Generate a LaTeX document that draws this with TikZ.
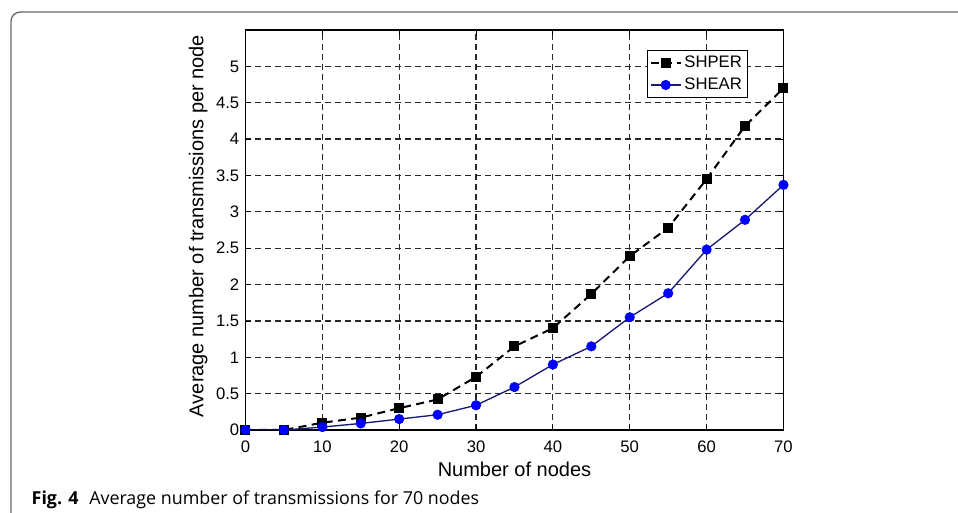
\documentclass[tikz,border=0pt]{standalone}
\usepackage{fontspec}
\setmainfont{Liberation Sans}
\newfontfamily\capfont{Open Sans}
\usepackage{tikz}
\usetikzlibrary{calc}
\usepackage{pgfplots}
\pgfplotsset{compat = newest}
\definecolor{navyline}{RGB}{25,25,110}
\definecolor{gridgray}{RGB}{40,40,40}
\definecolor{framegray}{RGB}{105,105,105}
\pgfplotsset{
  shper/.style={black, line width=1.5pt, dash pattern=on 6pt off 4pt,
    mark=square*, mark size=3pt, mark options={solid}},
  shear/.style={navyline, line width=1pt,
    mark=*, mark size=3.3pt, mark options={fill=blue, draw=blue}},
}

\begin{document}
\begin{tikzpicture}
\useasboundingbox (0,0) rectangle (718.5pt,384.75pt);
\draw[framegray, line width=1pt] (8.25pt,0) -- (8.25pt,368.75pt)
  arc[start angle=180, end angle=90, radius=7pt] -- (718.5pt,375.75pt);
\begin{axis}[name=plot, at={(184.1pt,62.25pt)}, anchor=south west,
  scale only axis, width=403.5pt, height=300pt,
  xmin=0, xmax=70, ymin=0, ymax=5.5,
  xtick={0,10,20,30,40,50,60,70},
  ytick={0,0.5,1,1.5,2,2.5,3,3.5,4,4.5,5},
  xticklabels={0,10,20,30,40,50,60,70},
  yticklabels={0,0.5,1,1.5,2,2.5,3,3.5,4,4.5,5},
  ticklabel style={font=\fontsize{12.5}{14}\selectfont},
  xticklabel style={anchor=base, yshift=-17pt},
  yticklabel style={anchor=east, inner xsep=0pt, xshift=-4.5pt},
  major tick length=4pt, tick style={black, line width=0.6pt},
  axis line style={black, line width=0.9pt},
  grid=major,
  major grid style={gridgray, line width=0.9pt, dash pattern=on 4.5pt off 3pt},
  xlabel={Number of nodes},
  ylabel={Average number of transmissions per node},
  label style={font=\fontsize{15}{18}\selectfont},
  xlabel style={at={(axis description cs:0.5,-0.117)}, anchor=base},
  ylabel style={at={(axis description cs:-0.088,0.51)}, anchor=center},
  legend image code/.code={\draw[mark repeat=2, mark phase=2, #1]
    plot coordinates {(0pt,0pt) (11.25pt,0pt) (22.5pt,0pt)};},
  legend style={at={(axis description cs:0.9335,0.95)}, anchor=north east,
    draw=black, line width=0.8pt, inner xsep=2pt, inner ysep=2pt,
    row sep=2.5pt, font=\fontsize{12.5}{14}\selectfont, cells={anchor=west}},
]
\addplot[shper] coordinates {
  (0,0) (5,0) (10,0.1) (15,0.17) (20,0.3) (25,0.42) (30,0.73) (35,1.15)
  (40,1.4) (45,1.87) (50,2.39) (55,2.78) (60,3.45) (65,4.18) (70,4.7)};
\addplot[shear] coordinates {
  (0,0) (5,0) (10,0.04) (15,0.09) (20,0.15) (25,0.21) (30,0.34) (35,0.59)
  (40,0.9) (45,1.15) (50,1.55) (55,1.88) (60,2.48) (65,2.89) (70,3.37)};
\legend{SHPER, SHEAR}
\end{axis}
\node[anchor=base west, font=\capfont\fontsize{13.4}{16}\selectfont] (caption)
  at (20.25pt,6pt) {{\bfseries Fig. 4}\hspace{0.6em}Average number of transmissions for 70 nodes};
\end{tikzpicture}
\end{document}
